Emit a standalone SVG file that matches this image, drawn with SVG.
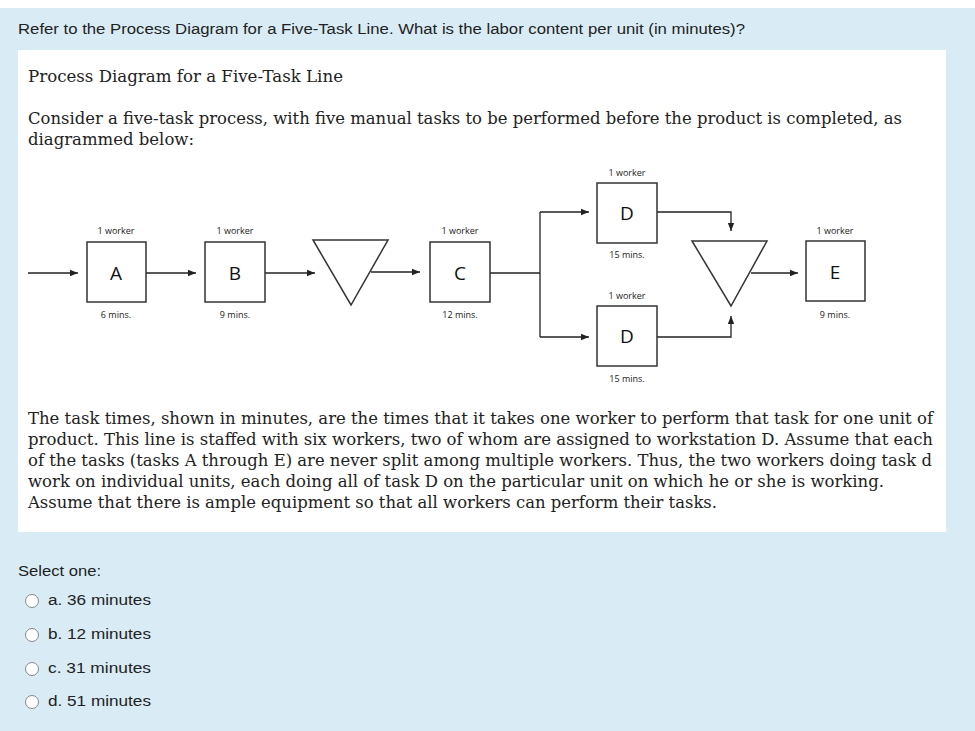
<svg xmlns="http://www.w3.org/2000/svg" width="975" height="731" viewBox="0 0 975 731">
<defs>
<marker id="ah" viewBox="0 0 10 10" refX="10" refY="5" markerWidth="8" markerHeight="8" markerUnits="userSpaceOnUse" orient="auto"><path d="M0,1 L10,5 L0,9 z" fill="#222"/></marker>
<style>
.box{fill:#fff;stroke:#333;stroke-width:1.5}
.tri{fill:#fff;stroke:#333;stroke-width:1.5}
.c{fill:none;stroke:#222;stroke-width:1.3}
.lb{font-family:"Open Sans","DejaVu Sans",sans-serif;font-size:9px;fill:#222;text-anchor:middle}
.big{font-family:"Open Sans","DejaVu Sans",sans-serif;font-size:19px;fill:#111;text-anchor:middle}
.s{font-family:"Liberation Sans",Arial,sans-serif;font-size:15.5px;fill:#222}
.sf{font-family:"DejaVu Serif","Liberation Serif",serif;font-size:16.5px;fill:#222}
.rad{fill:#fff;stroke:#888;stroke-width:1}
</style>
</defs>
<rect width="975" height="731" fill="#d9ecf6"/>
<rect x="0" y="0" width="975" height="8" fill="#fff"/>
<text class="s" x="18" y="34" textLength="727" lengthAdjust="spacingAndGlyphs">Refer to the Process Diagram for a Five-Task Line. What is the labor content per unit (in minutes)?</text>
<rect x="18" y="50" width="928" height="482" fill="#fff"/>
<text class="sf" x="28" y="82" textLength="315" lengthAdjust="spacingAndGlyphs">Process Diagram for a Five-Task Line</text>
<text class="sf" x="28" y="124" textLength="874" lengthAdjust="spacingAndGlyphs">Consider a five-task process, with five manual tasks to be performed before the product is completed, as</text>
<text class="sf" x="28" y="145" textLength="166" lengthAdjust="spacingAndGlyphs">diagrammed below:</text>
<g id="connectors">
<line class="c" x1="28" y1="273" x2="78" y2="273" marker-end="url(#ah)"/>
<line class="c" x1="146" y1="273" x2="196" y2="273" marker-end="url(#ah)"/>
<line class="c" x1="265" y1="273" x2="315" y2="273" marker-end="url(#ah)"/>
<line class="c" x1="371" y1="272" x2="420" y2="272" marker-end="url(#ah)"/>
<polyline class="c" points="490,273 540,273"/>
<polyline class="c" points="540,212 540,337"/>
<line class="c" x1="540" y1="212" x2="589" y2="212" marker-end="url(#ah)"/>
<line class="c" x1="540" y1="337" x2="589" y2="337" marker-end="url(#ah)"/>
<polyline class="c" points="657,212 731,212 731,231" marker-end="url(#ah)"/>
<polyline class="c" points="657,337 731,337 731,316" marker-end="url(#ah)"/>
<line class="c" x1="751" y1="273" x2="798" y2="273" marker-end="url(#ah)"/>
</g>
<g id="A"><rect class="box" x="87" y="242" width="59" height="60"/><text class="lb" x="116" y="234">1 worker</text><text class="big" x="116" y="280">A</text><text class="lb" x="116" y="318">6 mins.</text></g>
<g id="B"><rect class="box" x="205" y="242" width="60" height="60"/><text class="lb" x="235" y="234">1 worker</text><text class="big" x="235" y="280">B</text><text class="lb" x="235" y="318">9 mins.</text></g>
<g id="inv1"><polygon class="tri" points="313,240 388,240 351,305"/></g>
<g id="C"><rect class="box" x="430" y="242" width="60" height="60"/><text class="lb" x="460" y="234">1 worker</text><text class="big" x="460" y="280">C</text><text class="lb" x="460" y="318">12 mins.</text></g>
<g id="D1"><rect class="box" x="597" y="183" width="60" height="60"/><text class="lb" x="627" y="176">1 worker</text><text class="big" x="627" y="220">D</text><text class="lb" x="627" y="258">15 mins.</text></g>
<g id="D2"><rect class="box" x="597" y="306" width="60" height="60"/><text class="lb" x="627" y="299">1 worker</text><text class="big" x="627" y="343">D</text><text class="lb" x="627" y="382">15 mins.</text></g>
<g id="inv2"><polygon class="tri" points="692,241 767,241 731,306"/></g>
<g id="E"><rect class="box" x="806" y="241" width="59" height="60"/><text class="lb" x="835" y="234">1 worker</text><text class="big" x="835" y="279">E</text><text class="lb" x="835" y="318">9 mins.</text></g>
<text class="sf" x="28" y="424" textLength="905" lengthAdjust="spacingAndGlyphs">The task times, shown in minutes, are the times that it takes one worker to perform that task for one unit of</text>
<text class="sf" x="28" y="445" textLength="905" lengthAdjust="spacingAndGlyphs">product. This line is staffed with six workers, two of whom are assigned to workstation D. Assume that each</text>
<text class="sf" x="28" y="466" textLength="904" lengthAdjust="spacingAndGlyphs">of the tasks (tasks A through E) are never split among multiple workers. Thus, the two workers doing task d</text>
<text class="sf" x="28" y="487" textLength="856" lengthAdjust="spacingAndGlyphs">work on individual units, each doing all of task D on the particular unit on which he or she is working.</text>
<text class="sf" x="28" y="508" textLength="689" lengthAdjust="spacingAndGlyphs">Assume that there is ample equipment so that all workers can perform their tasks.</text>
<text class="s" x="18" y="576" textLength="83" lengthAdjust="spacingAndGlyphs">Select one:</text>
<circle class="rad" cx="32" cy="601" r="6.5"/><text class="s" x="48" y="605" textLength="103" lengthAdjust="spacingAndGlyphs">a. 36 minutes</text>
<circle class="rad" cx="32" cy="635" r="6.5"/><text class="s" x="48" y="639" textLength="103" lengthAdjust="spacingAndGlyphs">b. 12 minutes</text>
<circle class="rad" cx="32" cy="669" r="6.5"/><text class="s" x="48" y="673" textLength="103" lengthAdjust="spacingAndGlyphs">c. 31 minutes</text>
<circle class="rad" cx="32" cy="702" r="6.5"/><text class="s" x="48" y="706" textLength="103" lengthAdjust="spacingAndGlyphs">d. 51 minutes</text>
</svg>
